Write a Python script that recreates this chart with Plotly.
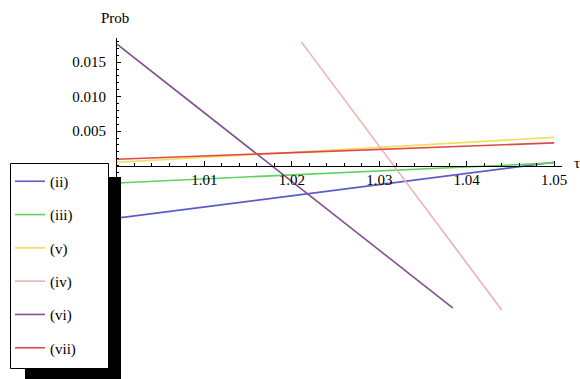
import plotly.graph_objects as go

names = ["(ii)", "(iii)", "(v)", "(iv)", "(vi)", "(vii)"]
colors = ["#5c5cc8", "#5fd35f", "#f2de5a", "#eeb2b2", "#82508f", "#e04848"]
x_start = [1.0, 1.0, 1.0, 1.0211, 1.0, 1.0]
x_end = [1.05, 1.05, 1.05, 1.044, 1.0384, 1.05]
y_start = [-0.0076, -0.0025, 0.0005, 0.0179, 0.0176, 0.00094]
y_end = [0.0005, 0.0004, 0.0041, -0.0209, -0.0206, 0.0033]

x_range = [1.0, 1.0509]
y_range = [-0.0212, 0.0185]
x_ticks = [1.01, 1.02, 1.03, 1.04, 1.05]
y_ticks = [0.005, 0.010, 0.015]

font = "Liberation Serif, Times New Roman, serif"
fs = 15

fig = go.Figure()
for n, c, xa, xb, ya, yb in zip(names, colors, x_start, x_end, y_start, y_end):
    fig.add_trace(go.Scatter(x=[xa, xb], y=[ya, yb], mode="lines", name=n,
                             legendgroup=n, line=dict(color=c, width=1.6)))

xpos = (0 - y_range[0]) / (y_range[1] - y_range[0])


def px_x(p):
    return (p - 117) / 445


def px_y(p):
    return (312 - p) / 274


fig.update_layout(
    width=580, height=379,
    margin=dict(l=117, r=18, t=38, b=67, autoexpand=False),
    paper_bgcolor="white", plot_bgcolor="white",
    font=dict(family=font, size=fs, color="black"),
    showlegend=True,
    legend=dict(x=10/580, y=1 - 165/379, xref="container", yref="container",
                xanchor="left", yanchor="top",
                bgcolor="rgba(0,0,0,0)", borderwidth=0,
                tracegroupgap=10.8, itemwidth=30, maxheight=379,
                font=dict(family=font, size=fs)),
    xaxis=dict(range=x_range, showgrid=False, zeroline=False,
               showline=True, linecolor="black", linewidth=1,
               anchor="free", position=xpos,
               tickvals=x_ticks, ticktext=[f"{v:.2f}" for v in x_ticks],
               ticks="inside", ticklen=5, tickcolor="black",
               minor=dict(dtick=0.002, tick0=1.0, ticks="inside", ticklen=3,
                          tickcolor="black", showgrid=False),
               tickfont=dict(size=fs)),
    yaxis=dict(range=y_range, showgrid=False, zeroline=False,
               showline=True, linecolor="black", linewidth=1,
               tickvals=y_ticks, ticktext=[f"{v:.3f}" for v in y_ticks],
               ticks="inside", ticklen=4, tickcolor="black",
               ticklabelstandoff=7,
               minor=dict(dtick=0.001, tick0=0, ticks="inside", ticklen=2,
                          tickcolor="black", showgrid=False),
               tickfont=dict(size=fs)),
    shapes=[
        dict(type="rect", xref="paper", yref="paper",
             x0=px_x(25), x1=px_x(121), y0=px_y(385), y1=px_y(177),
             fillcolor="black", line=dict(width=0), layer="above"),
        dict(type="rect", xref="paper", yref="paper",
             x0=px_x(10.5), x1=px_x(108.5), y0=px_y(368.5), y1=px_y(163.5),
             fillcolor="white", line=dict(width=1, color="black"), layer="above"),
    ],
    annotations=[
        dict(text="Prob", xref="paper", yref="paper", x=-0.005, y=px_y(18),
             showarrow=False, xanchor="center", yanchor="middle",
             font=dict(family=font, size=fs)),
        dict(text="τ", xref="paper", yref="paper", x=px_x(577),
             y=px_y(163), showarrow=False, xanchor="center",
             yanchor="middle", font=dict(family=font, size=fs)),
    ],
)

fig.write_html("out.html")
